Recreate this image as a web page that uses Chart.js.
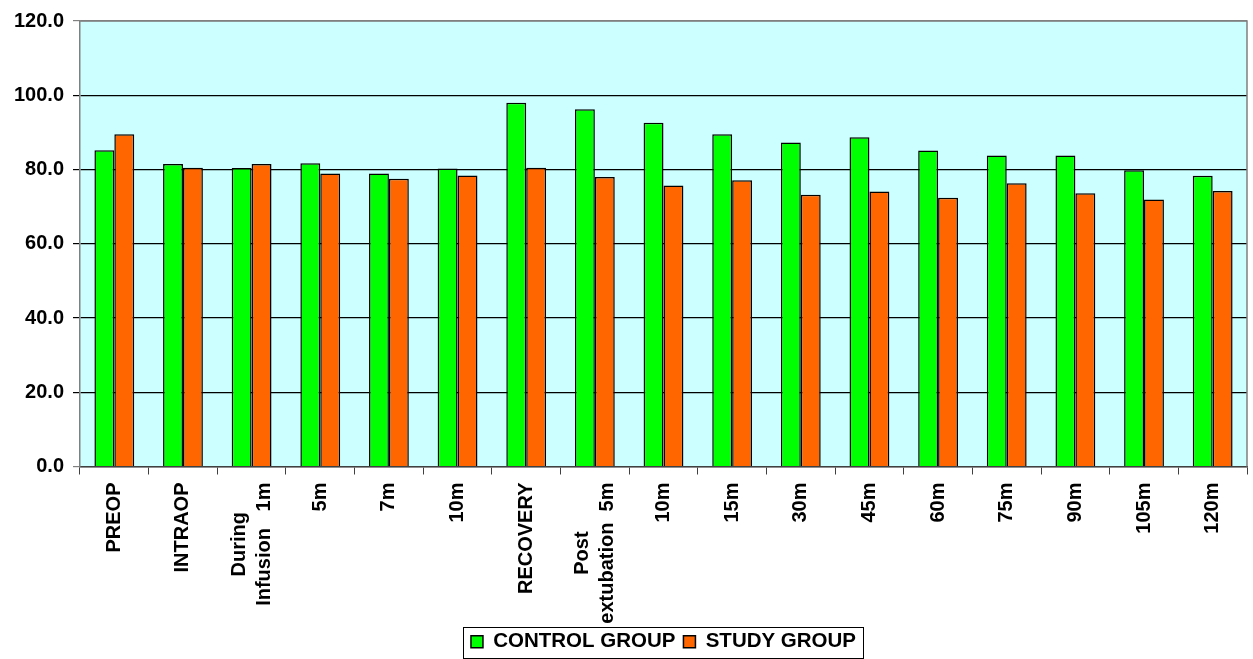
<!DOCTYPE html>
<html>
<head>
<meta charset="utf-8">
<script src="https://cdn.jsdelivr.net/npm/chart.js@4"></script>
<style>
  html, body { margin: 0; padding: 0; background: #fff; }
  #wrap { width: 1253px; height: 659px; position: relative; }
</style>
</head>
<body>
<div id="wrap"><canvas id="chart"></canvas></div>
<script>
// categories along the time line
const categories = [
    'PREOP', 'INTRAOP', ['During', 'Infusion   1m'], '5m', '7m', '10m',
    'RECOVERY', ['Post', 'extubation  5m'], '10m', '15m', '30m', '45m',
    '60m', '75m', '90m', '105m', '120m'
];

// group values
const controlGroup = [85.2, 81.5, 80.4, 81.7, 78.9, 80.3, 98.0, 96.2, 92.6, 89.5, 87.3, 88.7, 85.1, 83.8, 83.8, 79.8, 78.3];
const studyGroup   = [89.5, 80.5, 81.5, 78.9, 77.5, 78.4, 80.5, 78.0, 75.7, 77.1, 73.2, 74.1, 72.4, 76.3, 73.6, 71.9, 74.2];

// y axis range
const yMin = 0;
const yMax = 120;
const yStep = 20;

const FONT = "'Liberation Sans', Arial, sans-serif";
Chart.defaults.font.family = FONT;
Chart.defaults.font.weight = 'bold';
Chart.defaults.font.size = 20;
Chart.defaults.color = '#000';

// plot background and frame
const plotFrame = {
    id: 'plotFrame',
    beforeDraw(chart) {
        const { ctx, chartArea: a } = chart;
        ctx.save();
        ctx.fillStyle = '#CCFFFF';
        ctx.fillRect(a.left, a.top, a.right - a.left, a.bottom - a.top);
        ctx.restore();
    },
    afterDraw(chart) {
        const { ctx, chartArea: a } = chart;
        ctx.save();
        ctx.strokeStyle = '#808080';
        ctx.lineWidth = 1.5;
        ctx.beginPath();
        ctx.moveTo(a.left, a.top);
        ctx.lineTo(a.right, a.top);
        ctx.lineTo(a.right, a.bottom);
        ctx.stroke();
        ctx.restore();
    }
};

// rotated category labels, multi-line ones centred on each other
const xLabels = {
    id: 'xLabels',
    afterDraw(chart) {
        const { ctx } = chart;
        const scale = chart.scales.x;
        const top = scale.top + 16;
        const lineGap = 25;
        ctx.save();
        ctx.font = 'bold 20px ' + FONT;
        ctx.fillStyle = '#000';
        ctx.textBaseline = 'middle';
        ctx.textAlign = 'center';
        categories.forEach((lab, i) => {
            const lines = Array.isArray(lab) ? lab : [lab];
            const maxW = Math.max(...lines.map(l => ctx.measureText(l).width));
            const x = scale.getPixelForValue(i);
            ctx.save();
            ctx.translate(x, top);
            ctx.rotate(-Math.PI / 2);
            lines.forEach((l, j) => {
                ctx.fillText(l, -maxW / 2, (j - (lines.length - 1) / 2) * lineGap);
            });
            ctx.restore();
        });
        ctx.restore();
    }
};

// border round the legend
const legendBox = {
    id: 'legendBox',
    afterDraw(chart) {
        const boxes = chart.legend.legendHitBoxes;
        if (!boxes || !boxes.length) return;
        const left = Math.min(...boxes.map(b => b.left)) - 8;
        const right = Math.max(...boxes.map(b => b.left + b.width)) + 7;
        const top = boxes[0].top - 5;
        const bottom = boxes[0].top + boxes[0].height + 5;
        const ctx = chart.ctx;
        ctx.save();
        ctx.strokeStyle = '#000';
        ctx.lineWidth = 1;
        ctx.strokeRect(Math.round(left) + 0.5, Math.round(top) + 0.5, Math.round(right - left), Math.round(bottom - top));
        ctx.restore();
    }
};

new Chart(document.getElementById('chart'), {
    type: 'bar',
    data: {
        labels: categories,
        datasets: [{
            label: 'CONTROL GROUP',
            data: controlGroup,
            backgroundColor: '#00FF00',
            borderColor: '#000',
            borderWidth: 1.5
        }, {
            label: 'STUDY GROUP',
            data: studyGroup,
            backgroundColor: '#FF6600',
            borderColor: '#000',
            borderWidth: 1.5
        }]
    },
    options: {
        responsive: true,
        maintainAspectRatio: false,
        animation: false,
        datasets: {
            bar: { categoryPercentage: 0.58, barPercentage: 1.0 }
        },
        layout: { padding: { top: 20, right: 6, left: 0, bottom: -3 } },
        plugins: {
            tooltip: { enabled: false },
            legend: {
                position: 'bottom',
                fullSize: false,
                labels: {
                    boxWidth: 12,
                    boxHeight: 12,
                    padding: 8,
                    color: '#000',
                    font: { size: 20.5, weight: 'bold' }
                }
            }
        },
        scales: {
            x: {
                afterFit(scale) { scale.height = 157; },
                ticks: { display: false },
                grid: {
                    offset: true,
                    drawOnChartArea: false,
                    drawTicks: true,
                    tickLength: 8,
                    color: '#404040'
                },
                border: { color: '#404040', width: 1.5 }
            },
            y: {
                min: yMin,
                max: yMax,
                afterFit(scale) { scale.width = 80; },
                ticks: {
                    stepSize: yStep,
                    padding: 9,
                    callback: v => v.toFixed(1)
                },
                grid: {
                    tickLength: 7,
                    lineWidth: 1.2,
                    color: ctx => (ctx.tick && (ctx.tick.value === yMax || ctx.tick.value === yMin)) ? '#808080' : '#000'
                },
                border: { color: '#808080', width: 1.5 }
            }
        }
    },
    plugins: [plotFrame, xLabels, legendBox]
});
</script>
</body>
</html>
